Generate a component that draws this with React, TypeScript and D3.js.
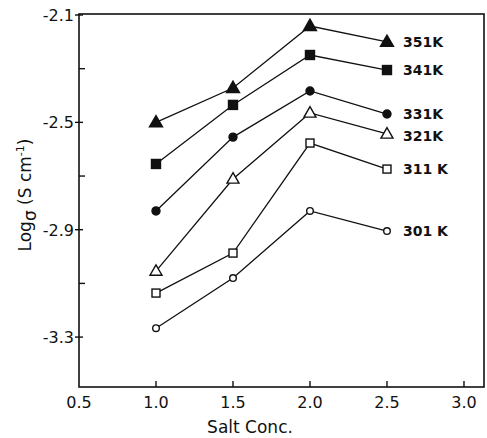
import React from "react";
import * as d3 from "d3";

// Salt concentration levels measured
const saltConc = [1.0, 1.5, 2.0, 2.5];

// log conductivity per temperature series
const series351 = [-2.5, -2.372, -2.141, -2.2];
const series341 = [-2.655, -2.435, -2.249, -2.305];
const series331 = [-2.83, -2.555, -2.383, -2.469];
const series321 = [-3.054, -2.711, -2.465, -2.543];
const series311 = [-3.136, -2.987, -2.577, -2.674];
const series301 = [-3.267, -3.08, -2.83, -2.905];

const seriesNames = ["351K", "341K", "331K", "321K", "311 K", "301 K"];
const seriesMarkers = ["triFill", "sqFill", "circFill", "triOpen", "sqOpen", "circOpen"];
const allSeries = [series351, series341, series331, series321, series311, series301];

const xTicks = [0.5, 1.0, 1.5, 2.0, 2.5, 3.0];
const yMajorTicks = [-2.1, -2.5, -2.9, -3.3];
const yMinorTicks = [-2.3, -2.7, -3.1];

const W = 487;
const H = 438;
const FONT = "'DejaVu Sans', 'Liberation Sans', sans-serif";

function Marker({ kind, cx, cy }: { kind: string; cx: number; cy: number }) {
  const ink = "#111";
  if (kind.startsWith("tri")) {
    const s = kind === "triFill" ? 13 : 12;
    const h = s * 0.87;
    const p = [
      [cx, cy - h * 0.6],
      [cx - s / 2, cy + h * 0.4],
      [cx + s / 2, cy + h * 0.4],
    ];
    return (
      <polygon
        points={p.map((d) => d.join(",")).join(" ")}
        fill={kind === "triFill" ? ink : "#fff"}
        stroke={ink}
        strokeWidth={1.4}
        strokeLinejoin="miter"
      />
    );
  }
  if (kind.startsWith("sq")) {
    const s = kind === "sqFill" ? 9 : 8;
    return (
      <rect
        x={cx - s / 2}
        y={cy - s / 2}
        width={s}
        height={s}
        fill={kind === "sqFill" ? ink : "#fff"}
        stroke={ink}
        strokeWidth={1.4}
      />
    );
  }
  const r = kind === "circFill" ? 4 : 3.3;
  return (
    <circle cx={cx} cy={cy} r={r} fill={kind === "circFill" ? ink : "#fff"} stroke={ink} strokeWidth={1.4} />
  );
}

export default function App() {
  const x = d3.scaleLinear().domain([0.5, 3.13]).range([79, 484]);
  const y = d3.scaleLinear().domain([-2.1, -3.486]).range([15, 387]);
  const left = x(0.5);
  const right = x(3.13);
  const top = 14;
  const bottom = y(-3.486);

  const line = d3
    .line<number>()
    .x((_, i) => x(saltConc[i]))
    .y((d) => y(d));

  const labelOffsets = [0, 0, 0, 2, 0, 0];

  return (
    <svg
      width={W}
      height={H}
      style={{ position: "absolute", left: 0, top: 0, background: "#fff" }}
      fontFamily={FONT}
    >
      <rect width={W} height={H} fill="#fff" />
      {/* frame */}
      <rect
        x={left}
        y={top}
        width={right - left}
        height={bottom - top}
        fill="none"
        stroke="#111"
        strokeWidth={1.6}
      />

      {/* x ticks */}
      {xTicks.map((t) => (
        <g key={t}>
          {t > 0.5 && <line x1={x(t)} x2={x(t)} y1={bottom} y2={bottom - 6} stroke="#111" strokeWidth={1.4} />}
          <text x={x(t)} y={bottom + 21} textAnchor="middle" fontSize={16} fill="#111">
            {t.toFixed(1)}
          </text>
        </g>
      ))}

      {/* y ticks */}
      {yMajorTicks.map((t) => (
        <g key={t}>
          <line x1={left - 4} x2={left + 4} y1={y(t)} y2={y(t)} stroke="#111" strokeWidth={1.4} />
          <text x={left - 5} y={y(t) + 6} textAnchor="end" fontSize={16} fill="#111">
            {t.toFixed(1)}
          </text>
        </g>
      ))}
      {yMinorTicks.map((t) => (
        <line key={t} x1={left} x2={left + 6} y1={y(t)} y2={y(t)} stroke="#111" strokeWidth={1.4} />
      ))}

      {/* axis titles */}
      <text x={250} y={433} textAnchor="middle" fontSize={17} fill="#111">
        Salt Conc.
      </text>
      <text transform="translate(31,195) rotate(-90)" textAnchor="middle" fontSize={17} fill="#111">
        Log<tspan dy={5}>σ</tspan>
        <tspan dy={-5}> (S cm</tspan>
        <tspan fontSize={11} dy={-7}>-1</tspan>
        <tspan dy={7}>)</tspan>
      </text>

      {/* series */}
      {allSeries.map((vals, si) => (
        <g key={seriesNames[si]}>
          <path d={line(vals) || ""} fill="none" stroke="#111" strokeWidth={1.3} />
          {vals.map((v, i) => (
            <Marker key={i} kind={seriesMarkers[si]} cx={x(saltConc[i])} cy={y(v)} />
          ))}
          <text
            x={x(2.5) + 16}
            y={y(vals[3]) + 5 + labelOffsets[si]}
            fontSize={14}
            fontWeight="bold"
            fill="#111"
          >
            {seriesNames[si]}
          </text>
        </g>
      ))}
    </svg>
  );
}
